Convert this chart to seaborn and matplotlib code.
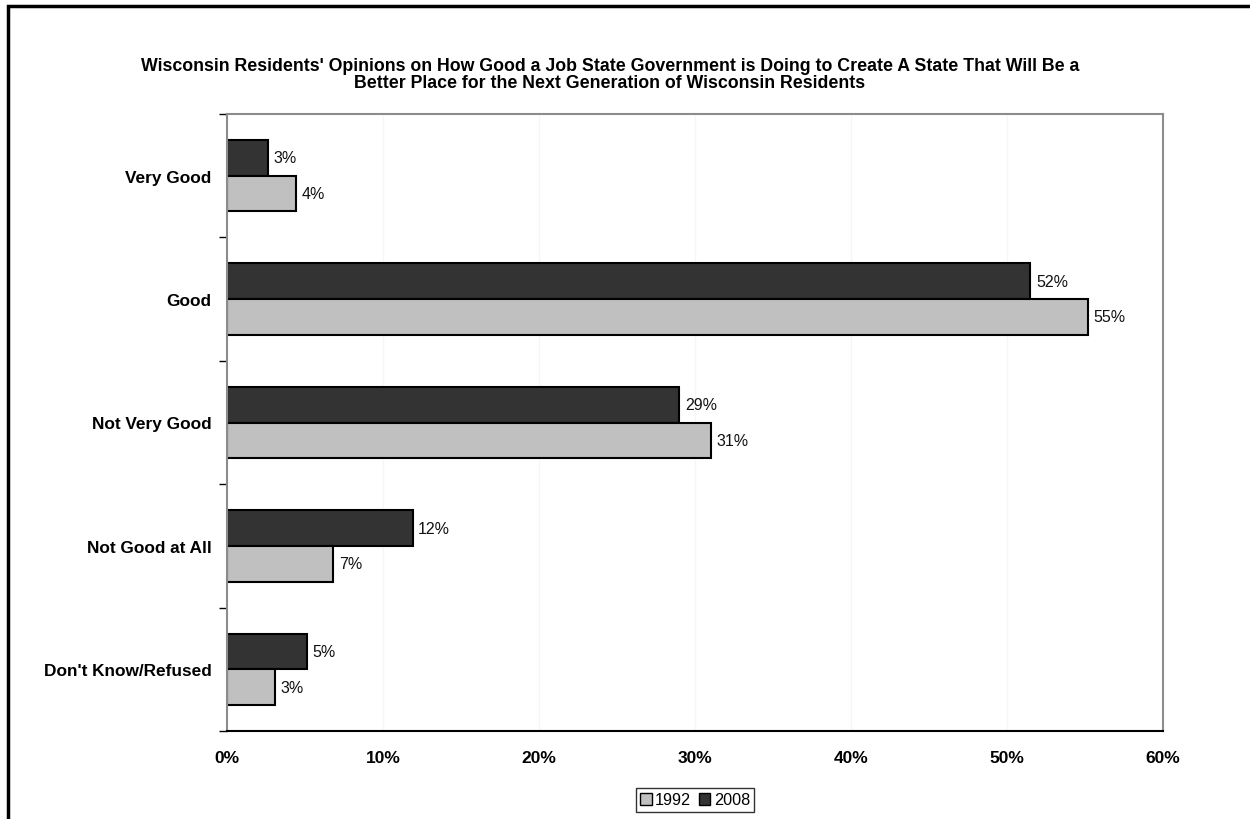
import matplotlib
matplotlib.use("Agg")
import matplotlib.pyplot as plt
from matplotlib.patches import Rectangle, Patch
from matplotlib.ticker import FixedLocator, PercentFormatter
import seaborn as sns
import pandas as pd

categories = ["Very Good", "Good", "Not Very Good", "Not Good at All", "Don't Know/Refused"]
years = ["2008", "1992"]
values_2008 = [2.6, 51.5, 29.0, 11.9, 5.1]
values_1992 = [4.4, 55.2, 31.0, 6.8, 3.1]
x_ticks = [0, 10, 20, 30, 40, 50, 60]
title = ("Wisconsin Residents' Opinions on How Good a Job State Government is Doing to Create A State That Will Be a\n"
         "Better Place for the Next Generation of Wisconsin Residents")

df = pd.DataFrame({
    "category": categories * 2,
    "year": ["2008"] * len(categories) + ["1992"] * len(categories),
    "value": values_2008 + values_1992,
})

sns.set_theme(style="white")
plt.rcParams["font.family"] = ["Liberation Sans", "DejaVu Sans"]
plt.rcParams["text.color"] = "black"

colors = {"2008": "#333333", "1992": "#c0c0c0"}

fig = plt.figure(figsize=(12.5, 8.2), dpi=100)
ax = fig.add_axes([227 / 1250, 1 - 732 / 820, (1163 - 227) / 1250, (732 - 115) / 820])

sns.barplot(data=df, y="category", x="value", hue="year", hue_order=years,
            order=categories, palette=colors, orient="h", width=0.58,
            edgecolor="black", linewidth=1.5, saturation=1, ax=ax, legend=False)

for cont in ax.containers:
    ax.bar_label(cont, labels=[f"{v:.0f}%" for v in cont.datavalues],
                 padding=4, fontsize=11.5, color="#111111")

ax.set_xlim(0, 60)
ax.set_ylim(len(categories) - 0.5, -0.5)
ax.xaxis.set_major_locator(FixedLocator(x_ticks))
ax.xaxis.set_major_formatter(PercentFormatter(decimals=0))
ax.set_xlabel("")
ax.set_ylabel("")
ax.grid(axis="x", color="#f6f6f6", linewidth=1)
ax.set_axisbelow(True)

for lab in ax.get_xticklabels():
    lab.set_fontweight("bold")
for lab in ax.get_yticklabels():
    lab.set_fontweight("bold")
ax.tick_params(axis="x", length=0, pad=14, labelsize=12.5, colors="black")
ax.tick_params(axis="y", which="major", length=0, pad=11, labelsize=12.4, colors="black")
ax.yaxis.set_minor_locator(FixedLocator([i - 0.5 for i in range(len(categories) + 1)]))
ax.tick_params(axis="y", which="minor", left=True, length=6, width=1, color="black")

for side in ["top", "right", "left"]:
    ax.spines[side].set_color("#8c8c8c")
    ax.spines[side].set_linewidth(1.5)
ax.spines["bottom"].set_color("black")
ax.spines["bottom"].set_linewidth(1.5)

fig.text(0.488, 1 - 75 / 820, title, ha="center", va="center", color="black",
         fontsize=12.8, fontweight="bold", linespacing=0.98)

handles = [Patch(facecolor=colors["1992"], edgecolor="black", linewidth=1, label="1992"),
           Patch(facecolor=colors["2008"], edgecolor="black", linewidth=1, label="2008")]
leg = fig.legend(handles=handles, loc="center", bbox_to_anchor=(695 / 1250, 1 - 801 / 820),
                 ncol=2, frameon=True, fancybox=False, fontsize=11.7,
                 handlelength=0.7, handleheight=0.7, handletextpad=0.2,
                 columnspacing=0.5, borderpad=0.25, borderaxespad=0)
leg.get_frame().set_edgecolor("black")
leg.get_frame().set_linewidth(1)
for t in leg.get_texts():
    t.set_color("black")

fig.patches.append(Rectangle((8 / 1250, -0.05), 1.1, 1 - 7 / 820 + 0.05,
                             transform=fig.transFigure, fill=False,
                             edgecolor="black", linewidth=2.5))

fig.savefig("out.png", dpi=100, facecolor="white")
